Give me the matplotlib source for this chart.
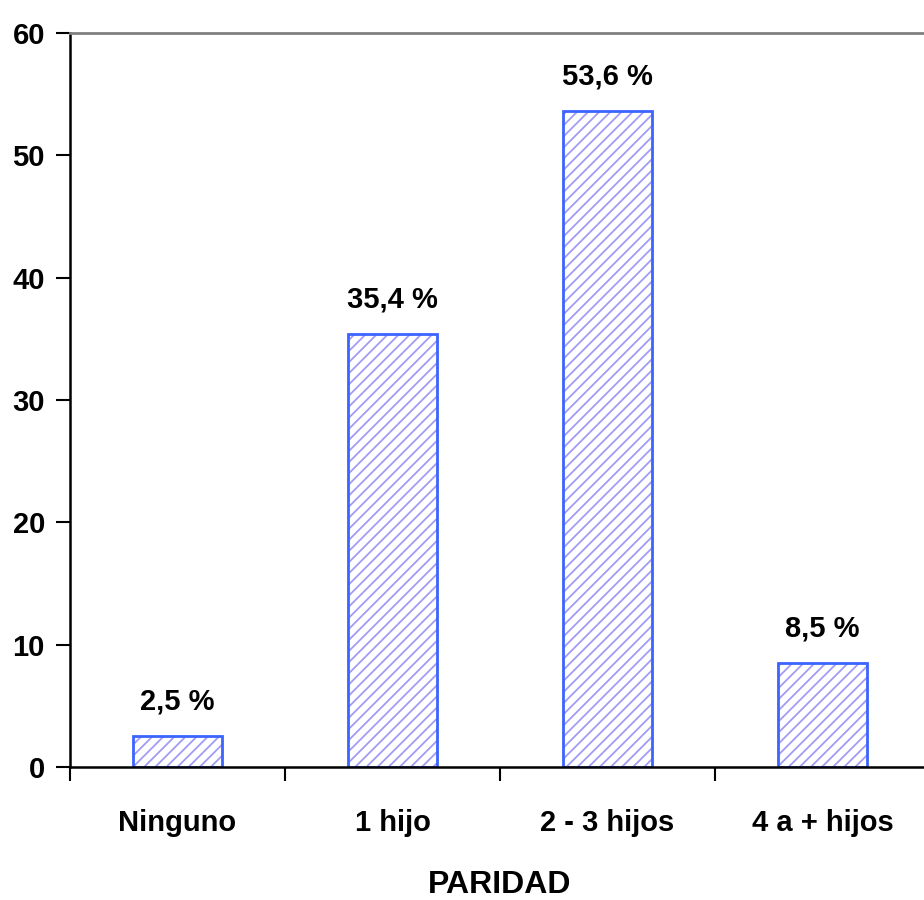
import matplotlib.pyplot as plt

categorias = ["Ninguno", "1 hijo", "2 - 3 hijos", "4 a + hijos"]
porcentajes = [2.5, 35.4, 53.6, 8.5]
etiquetas = ["2,5 %", "35,4 %", "53,6 %", "8,5 %"]

plt.rcParams['font.family'] = ['Liberation Sans', 'DejaVu Sans']
plt.rcParams['font.weight'] = 'bold'
plt.rcParams['hatch.linewidth'] = 1.3
plt.rcParams['hatch.color'] = '#a09cf6'

fig = plt.figure(figsize=(9.24, 9.0), dpi=100)
ax = fig.add_axes([70 / 924, 133 / 900, 860 / 924, 734 / 900])

pos = [i + 0.5 for i in range(len(categorias))]
barras = ax.bar(pos, porcentajes, width=0.41, facecolor='white',
                edgecolor='#3c64ff', linewidth=2, hatch='///')
for b in barras:
    b._hatch_color = (0.63, 0.61, 0.96, 1.0)

for x, v, t in zip(pos, porcentajes, etiquetas):
    ax.annotate(t, (x, v), xytext=(0, 15), textcoords='offset points',
                ha='center', va='bottom', fontsize=21, fontweight='bold')

ax.set_xlim(0, 4)
ax.set_ylim(0, 60)
ax.set_yticks(range(0, 61, 10))
ax.set_xticks(range(0, 5))
ax.set_xticklabels([])
ax.set_xticks(pos, minor=True)
ax.set_xticklabels(categorias, minor=True)
ax.tick_params(axis='x', which='major', direction='out', length=10, width=1.5)
ax.tick_params(axis='x', which='minor', length=0, pad=30, labelsize=21)
ax.tick_params(axis='y', direction='out', length=10, width=1.5, labelsize=21, pad=8)

ax.spines['left'].set_linewidth(1.8)
ax.spines['bottom'].set_linewidth(1.8)
ax.spines['top'].set_color('#808080')
ax.spines['top'].set_linewidth(2)
ax.spines['right'].set_visible(False)

ax.set_xlabel("PARIDAD", fontsize=23, fontweight='bold', labelpad=24)

fig.savefig("out.png", dpi=100)
